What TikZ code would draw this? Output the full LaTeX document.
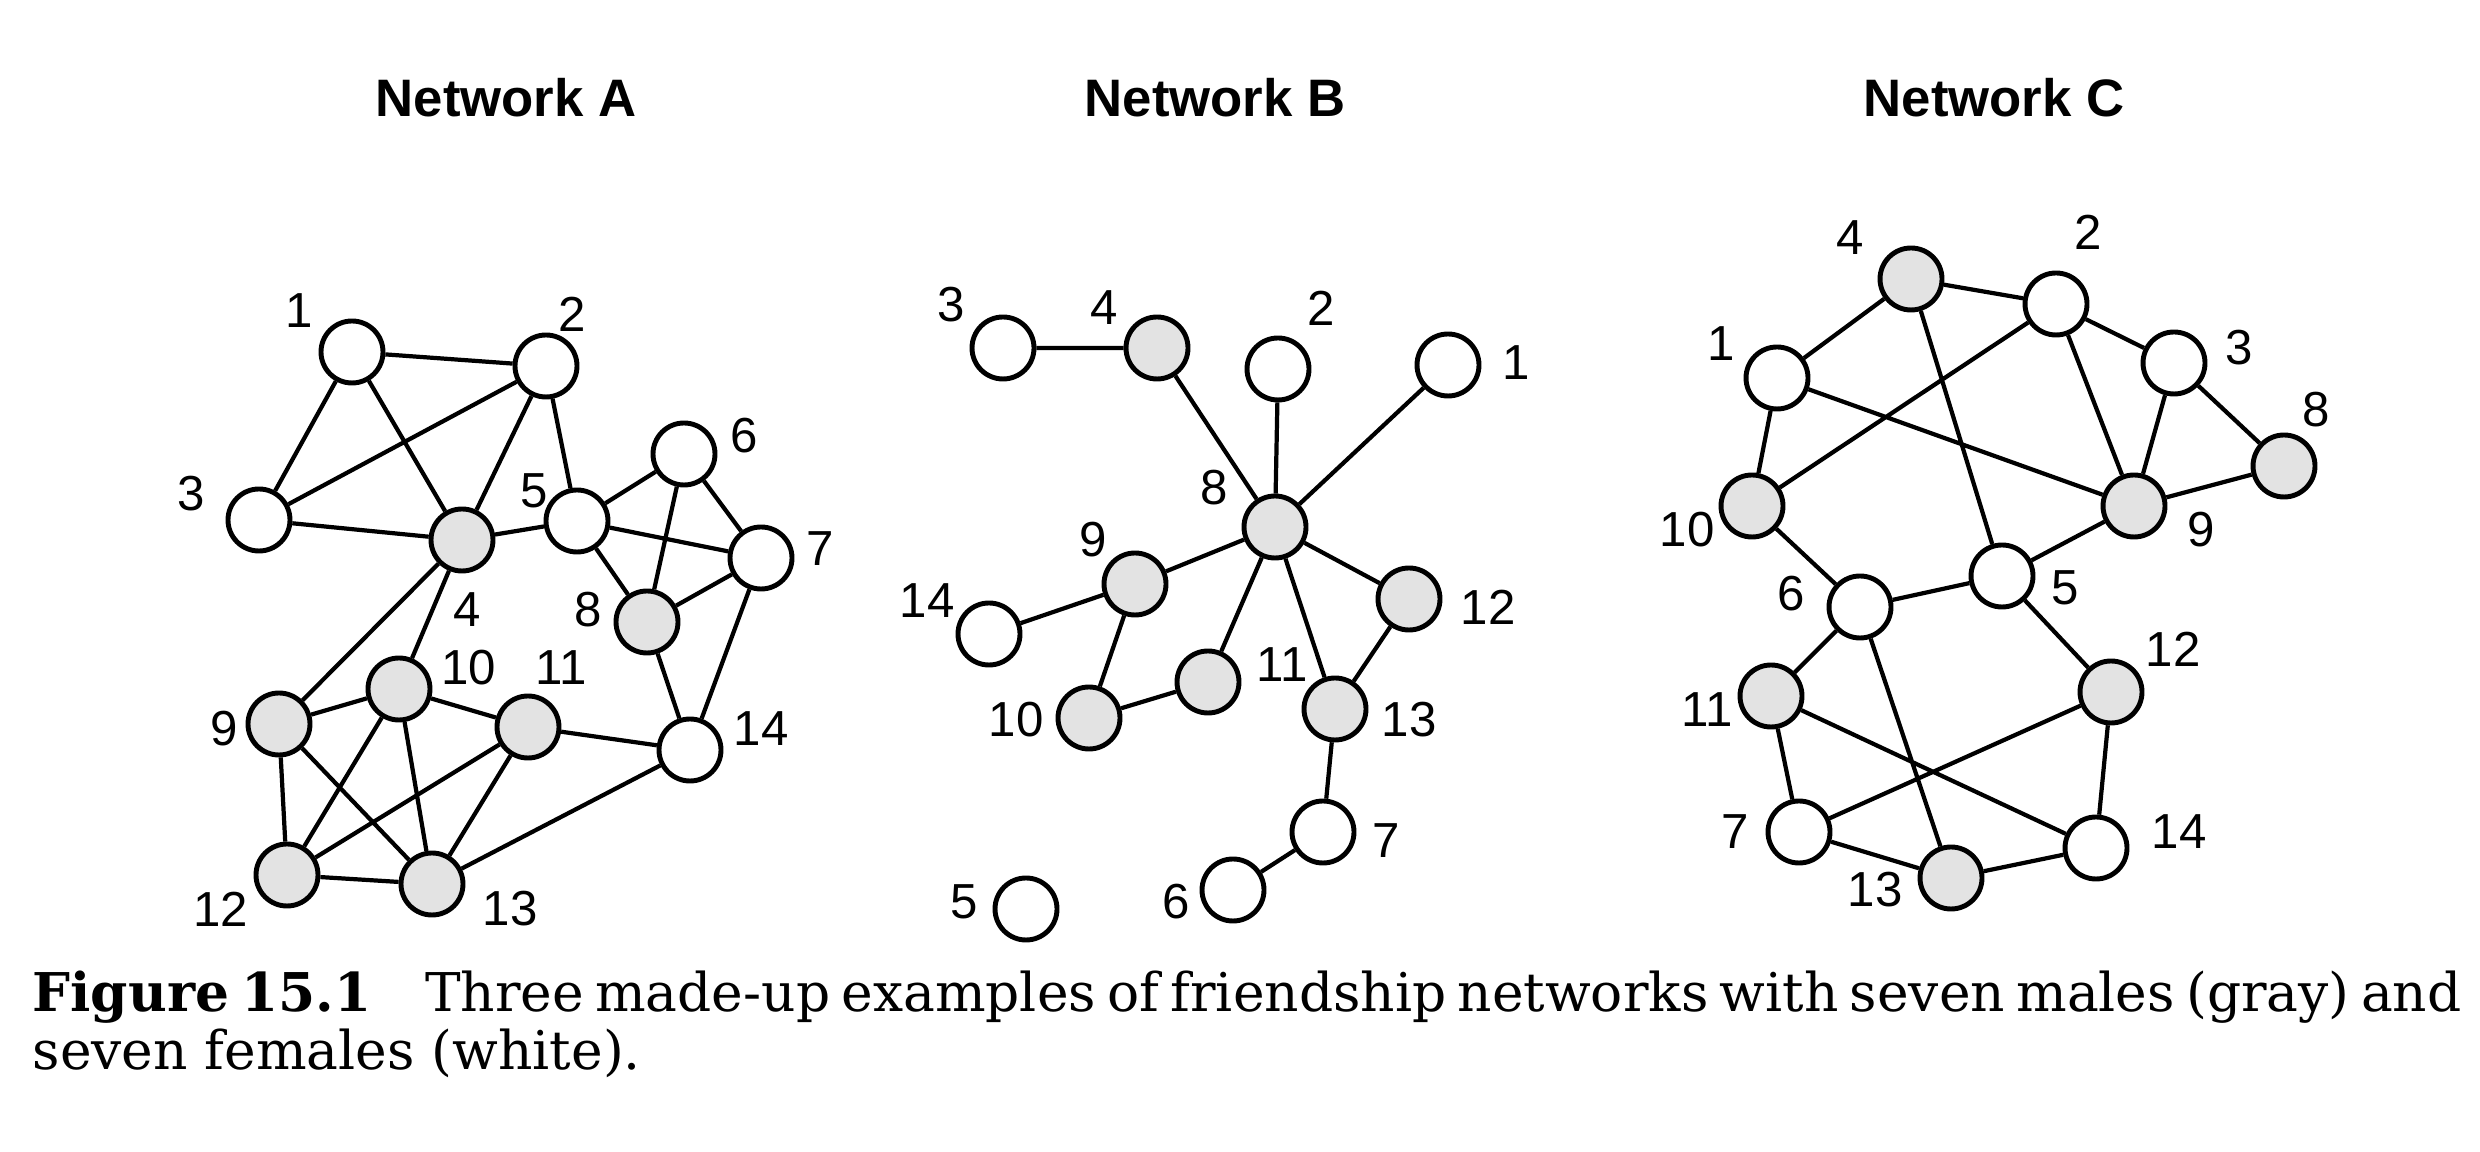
\documentclass[tikz,border=0pt]{standalone}
\usepackage{fontspec}
\setmainfont{DejaVu Serif}
\newfontfamily\numfont{Liberation Sans}
\tikzset{
	female/.style={circle, draw, line width=1.4pt, minimum size=0.62cm, inner sep=0pt, fill=white},
	male/.style={female, fill=gray!22},
	num/.style={font=\numfont\fontsize{14}{14}\selectfont, inner sep=0pt},
	netname/.style={font=\numfont\bfseries\fontsize{15}{15}\selectfont, inner sep=0pt},
	caption/.style={font=\fontsize{15.2}{17}\selectfont, inner sep=0pt},
	link/.style={line width=1.2pt}
}

\begin{document}
\begin{tikzpicture}
		%%%%% START %%%%%
		\useasboundingbox (0, 0) rectangle (24.8, 11.52);
		
		\node[netname] (ta) at (5.06, 10.54) {Network A};
		\node[netname] (tb) at (12.15, 10.54) {Network B};
		\node[netname] (tc) at (19.94, 10.54) {Network C};
		
		% network A
		\node[female] (a1) at (3.52, 8.00) {};
		\node[female] (a2) at (5.46, 7.86) {};
		\node[female] (a3) at (2.59, 6.32) {};
		\node[male] (a4) at (4.62, 6.12) {};
		\node[female] (a5) at (5.77, 6.31) {};
		\node[female] (a6) at (6.84, 6.98) {};
		\node[female] (a7) at (7.61, 5.94) {};
		\node[male] (a8) at (6.47, 5.30) {};
		\node[male] (a9) at (2.79, 4.28) {};
		\node[male] (a10) at (3.99, 4.63) {};
		\node[male] (a11) at (5.28, 4.25) {};
		\node[male] (a12) at (2.87, 2.77) {};
		\node[male] (a13) at (4.32, 2.68) {};
		\node[female] (a14) at (6.90, 4.02) {};
		
		\draw[link] (a1) -- (a2) (a1) -- (a3) (a1) -- (a4) (a2) -- (a3) (a2) -- (a4) (a2) -- (a5)
			(a3) -- (a4) (a4) -- (a5) (a4) -- (a9) (a4) -- (a10) (a5) -- (a6) (a5) -- (a7) (a5) -- (a8)
			(a6) -- (a7) (a6) -- (a8) (a7) -- (a8) (a7) -- (a14) (a8) -- (a14) (a9) -- (a10) (a9) -- (a12)
			(a9) -- (a13) (a10) -- (a11) (a10) -- (a12) (a10) -- (a13) (a11) -- (a12) (a11) -- (a13)
			(a11) -- (a14) (a12) -- (a13) (a13) -- (a14);
		
		\node[num] (la1) at (2.99, 8.41) {1};
		\node[num] (la2) at (5.72, 8.38) {2};
		\node[num] (la3) at (1.91, 6.58) {3};
		\node[num] (la4) at (4.67, 5.42) {4};
		\node[num] (la5) at (5.34, 6.61) {5};
		\node[num] (la6) at (7.44, 7.16) {6};
		\node[num] (la7) at (8.20, 6.03) {7};
		\node[num] (la8) at (5.88, 5.42) {8};
		\node[num] (la9) at (2.24, 4.23) {9};
		\node[num] (la10) at (4.69, 4.84) {10};
		\node[num] (la11) at (5.61, 4.84) {11};
		\node[num] (la12) at (2.21, 2.43) {12};
		\node[num] (la13) at (5.10, 2.43) {13};
		\node[num] (la14) at (7.61, 4.23) {14};
		
		% network B
		\node[female] (b1) at (14.48, 7.87) {};
		\node[female] (b2) at (12.78, 7.83) {};
		\node[female] (b3) at (10.03, 8.04) {};
		\node[male] (b4) at (11.57, 8.04) {};
		\node[female] (b5) at (10.26, 2.43) {};
		\node[female] (b6) at (12.33, 2.62) {};
		\node[female] (b7) at (13.23, 3.20) {};
		\node[male] (b8) at (12.75, 6.25) {};
		\node[male] (b9) at (11.35, 5.68) {};
		\node[male] (b10) at (10.89, 4.34) {};
		\node[male] (b11) at (12.08, 4.70) {};
		\node[male] (b12) at (14.09, 5.53) {};
		\node[male] (b13) at (13.35, 4.43) {};
		\node[female] (b14) at (9.89, 5.18) {};
		
		\draw[link] (b3) -- (b4) (b4) -- (b8) (b2) -- (b8) (b1) -- (b8) (b8) -- (b9) (b8) -- (b11)
			(b8) -- (b12) (b8) -- (b13) (b9) -- (b14) (b9) -- (b10) (b10) -- (b11) (b12) -- (b13)
			(b13) -- (b7) (b7) -- (b6);
		
		\node[num] (lb1) at (15.16, 7.89) {1};
		\node[num] (lb2) at (13.21, 8.44) {2};
		\node[num] (lb3) at (9.51, 8.47) {3};
		\node[num] (lb4) at (11.04, 8.44) {4};
		\node[num] (lb5) at (9.64, 2.50) {5};
		\node[num] (lb6) at (11.76, 2.50) {6};
		\node[num] (lb7) at (13.86, 3.11) {7};
		\node[num] (lb8) at (12.14, 6.64) {8};
		\node[num] (lb9) at (10.93, 6.12) {9};
		\node[num] (lb10) at (10.16, 4.32) {10};
		\node[num] (lb11) at (12.82, 4.87) {11};
		\node[num] (lb12) at (14.88, 5.45) {12};
		\node[num] (lb13) at (14.09, 4.32) {13};
		\node[num] (lb14) at (9.27, 5.51) {14};
		
		% network C
		\node[female] (c1) at (17.77, 7.74) {};
		\node[female] (c2) at (20.56, 8.48) {};
		\node[female] (c3) at (21.74, 7.89) {};
		\node[male] (c4) at (19.11, 8.73) {};
		\node[female] (c5) at (20.02, 5.76) {};
		\node[female] (c6) at (18.60, 5.45) {};
		\node[female] (c7) at (17.99, 3.20) {};
		\node[male] (c8) at (22.84, 6.86) {};
		\node[male] (c9) at (21.34, 6.46) {};
		\node[male] (c10) at (17.52, 6.46) {};
		\node[male] (c11) at (17.71, 4.56) {};
		\node[male] (c12) at (21.11, 4.60) {};
		\node[male] (c13) at (19.51, 2.74) {};
		\node[female] (c14) at (20.96, 3.04) {};
		
		\draw[link] (c4) -- (c2) (c4) -- (c1) (c4) -- (c5) (c2) -- (c3) (c2) -- (c10) (c2) -- (c9)
			(c1) -- (c10) (c1) -- (c9) (c3) -- (c9) (c3) -- (c8) (c8) -- (c9) (c10) -- (c6)
			(c9) -- (c5) (c6) -- (c5) (c5) -- (c12) (c6) -- (c11) (c6) -- (c13) (c11) -- (c7)
			(c11) -- (c14) (c12) -- (c7) (c12) -- (c14) (c7) -- (c13) (c13) -- (c14);
		
		\node[num] (lc1) at (17.21, 8.08) {1};
		\node[num] (lc2) at (20.88, 9.20) {2};
		\node[num] (lc3) at (22.39, 8.04) {3};
		\node[num] (lc4) at (18.50, 9.14) {4};
		\node[num] (lc5) at (20.65, 5.64) {5};
		\node[num] (lc6) at (17.91, 5.58) {6};
		\node[num] (lc7) at (17.35, 3.20) {7};
		\node[num] (lc8) at (23.16, 7.42) {8};
		\node[num] (lc9) at (22.01, 6.22) {9};
		\node[num] (lc10) at (16.87, 6.22) {10};
		\node[num] (lc11) at (17.07, 4.42) {11};
		\node[num] (lc12) at (21.73, 5.03) {12};
		\node[num] (lc13) at (18.75, 2.62) {13};
		\node[num] (lc14) at (21.79, 3.20) {14};
		
		% caption
		\node[caption, anchor=base west] (cap1) at (0.32, 1.40) {\hbox to 24.27cm{\textbf{Figure 15.1}\quad Three made-up examples of friendship networks with seven males (gray) and}};
		\node[caption, anchor=base west] (cap2) at (0.32, 0.82) {seven females (white).};
		
		%%%%% END %%%%%
\end{tikzpicture}
\end{document}
